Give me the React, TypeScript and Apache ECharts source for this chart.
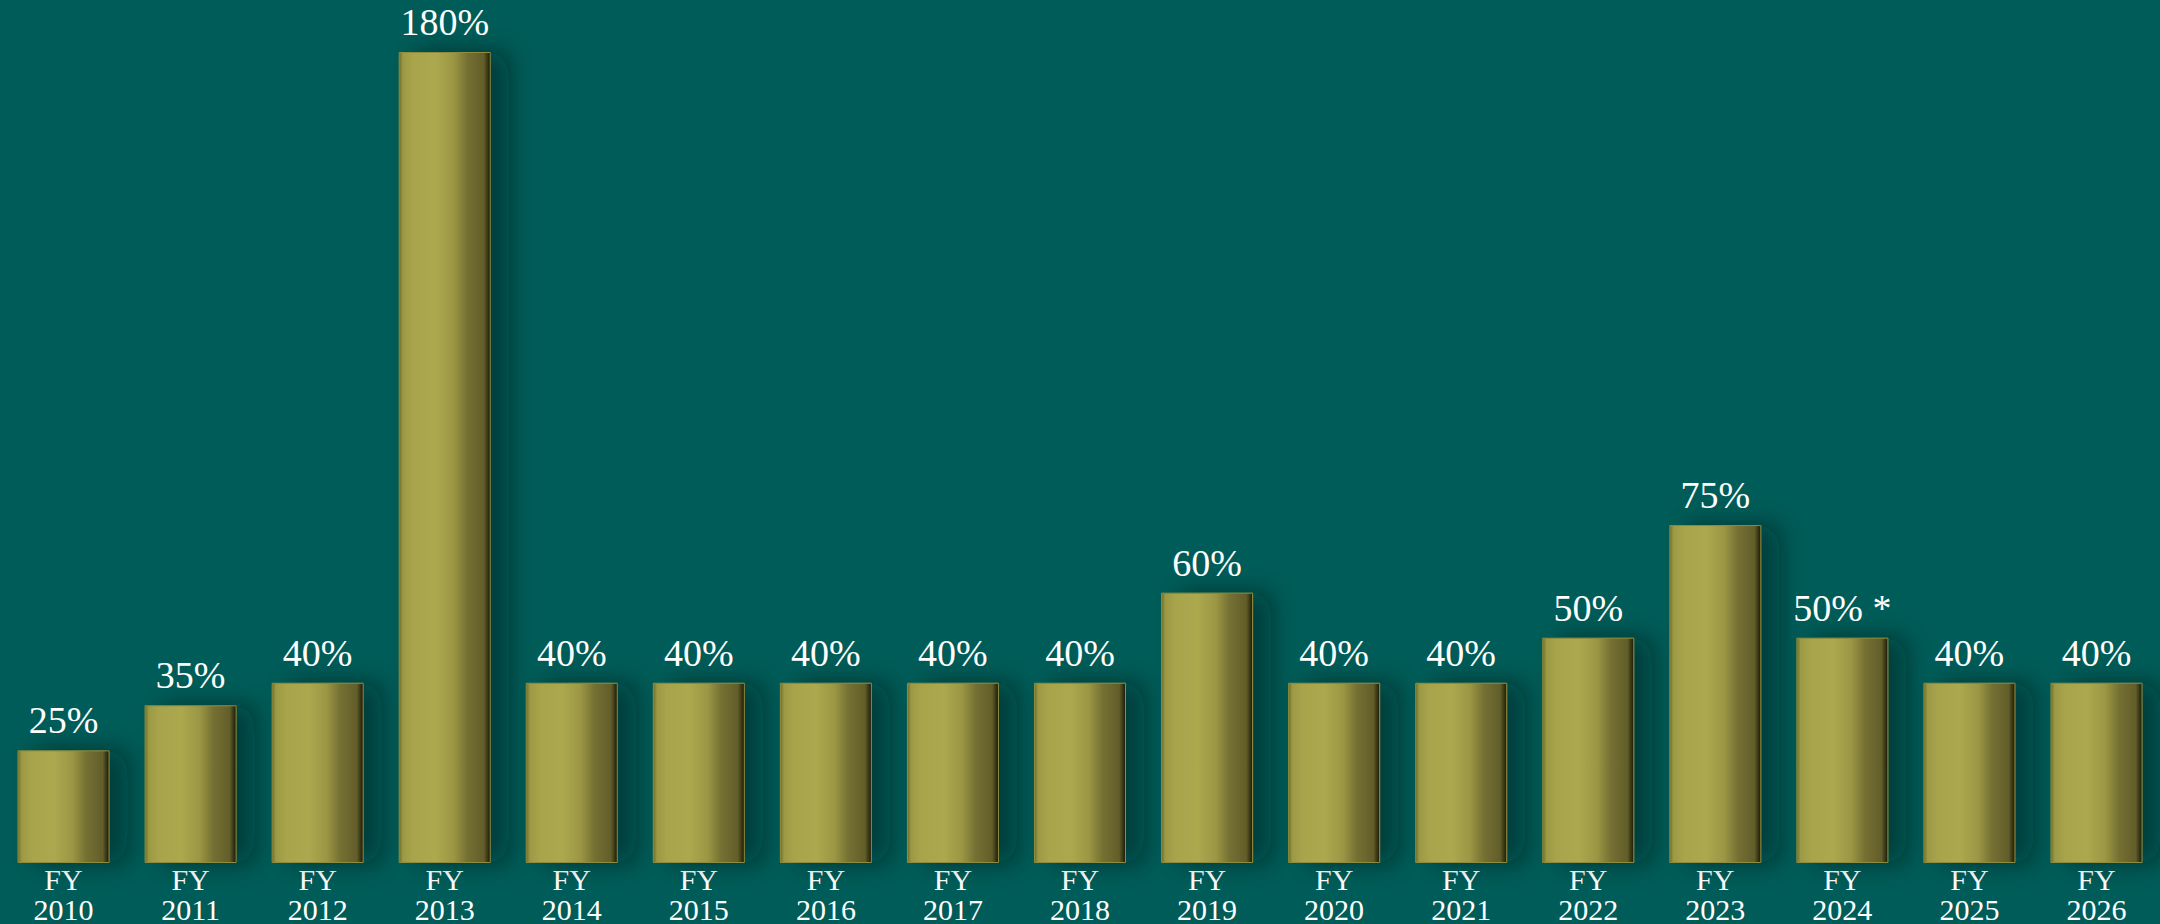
import React, { useEffect, useRef } from "react";
import * as echarts from "echarts";

const categories = ["FY\n2010", "FY\n2011", "FY\n2012", "FY\n2013", "FY\n2014", "FY\n2015", "FY\n2016", "FY\n2017", "FY\n2018", "FY\n2019", "FY\n2020", "FY\n2021", "FY\n2022", "FY\n2023", "FY\n2024", "FY\n2025", "FY\n2026"];
const values = [25, 35, 40, 180, 40, 40, 40, 40, 40, 60, 40, 40, 50, 75, 50, 40, 40];
const labelSuffix = ["", "", "", "", "", "", "", "", "", "", "", "", "", "", " *", "", ""];

export default function App() {
  const ref = useRef<HTMLDivElement>(null);
  useEffect(() => {
    if (!ref.current) return;
    const chart = echarts.init(ref.current, undefined, { renderer: "svg" });
    const barGradient = new echarts.graphic.LinearGradient(0, 0, 1, 0, [
      { offset: 0, color: "#6f6c2c" },
      { offset: 0.04, color: "#9c9944" },
      { offset: 0.15, color: "#a8a44c" },
      { offset: 0.4, color: "#aca84f" },
      { offset: 0.6, color: "#9a9644" },
      { offset: 0.75, color: "#747033" },
      { offset: 0.93, color: "#625e2a" },
      { offset: 0.97, color: "#3a3716" },
      { offset: 1, color: "#1c1a08" },
    ]);
    chart.setOption({
      animation: false,
      backgroundColor: "#005c58",
      grid: { left: -6, right: -2, top: 52, bottom: 60, containLabel: false },
      xAxis: {
        type: "category",
        data: categories,
        axisLine: { show: false },
        axisTick: { show: false },
        axisLabel: {
          color: "#ffffff",
          fontFamily: "Liberation Serif",
          fontSize: 30,
          lineHeight: 30,
          margin: 1,
          interval: 0,
        },
      },
      yAxis: {
        type: "value",
        min: 0,
        max: 180,
        show: false,
        splitLine: { show: false },
      },
      series: [
        {
          type: "bar",
          data: values,
          barWidth: 92,
          itemStyle: {
            color: barGradient,
            borderColor: "#8f8c3c",
            borderWidth: 1,
            shadowColor: "rgba(0,30,30,0.45)",
            shadowBlur: 24,
            shadowOffsetX: 18,
            shadowOffsetY: 0,
          },
          label: {
            show: true,
            position: "top",
            distance: 11,
            color: "#ffffff",
            fontFamily: "Liberation Serif",
            fontSize: 38,
            formatter: (p: any) => p.value + "%" + labelSuffix[p.dataIndex],
          },
        },
      ],
    });
    return () => chart.dispose();
  }, []);
  return (
    <div
      ref={ref}
      style={{ position: "absolute", left: 0, top: 0, width: 2160, height: 924 }}
    />
  );
}
